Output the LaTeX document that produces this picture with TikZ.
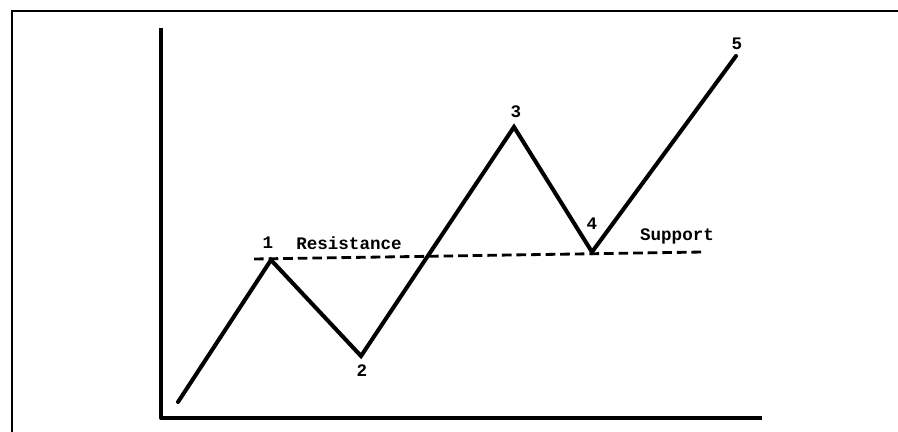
\documentclass[tikz,border=0pt]{standalone}
\usepackage{fontspec}
\setmonofont{Liberation Mono}
\usetikzlibrary{calc}

\begin{document}
\begin{tikzpicture}[
  x=0.02cm, y=-0.02cm,
  frame/.style={line width=1.6pt},
  axis/.style={line width=2.2pt, line join=round},
  price/.style={line width=2.3pt, line join=miter, line cap=round},
  level/.style={line width=1.6pt, dash pattern=on 5.5pt off 2.8pt},
  lbl/.style={font=\ttfamily\bfseries, inner sep=1pt},
]
\useasboundingbox (0,0) rectangle (898,432);

%% ---- Outer frame (cut at right and bottom) ----
\coordinate (fbot) at (12,432);
\coordinate (fright) at (898,11);
\draw[frame] (fbot) |- (fright);

%% ---- Axes ----
\coordinate (ytop) at (161,28);
\coordinate (xend) at (762,418);
\draw[axis] (ytop) |- (xend);

%% ---- Price path ----
\coordinate (p0) at (178,402);
\coordinate (p1) at (271,260);
\coordinate (p2) at (361,356);
\coordinate (p3) at (514,127);
\coordinate (p4) at (592,252);
\coordinate (p5) at (736,56);
\draw[price] (p0) -- (p1) -- (p2) -- (p3) -- (p4) -- (p5);

%% ---- Resistance / support level ----
\coordinate (lvlstart) at (254,259);
\coordinate (lvlend) at (703,252);
\draw[level] (lvlstart) -- (lvlend);

%% ---- Labels ----
\node[lbl] (n1) at (268,243) {1};
\node[lbl] (n2) at (362,371) {2};
\node[lbl] (n3) at (516,112) {3};
\node[lbl] (n4) at (592,224) {4};
\node[lbl] (n5) at (737,44) {5};
\node[lbl] (res) at (349,243) {Resistance};
\node[lbl] (sup) at (677,236) {Support};

\end{tikzpicture}
\end{document}
